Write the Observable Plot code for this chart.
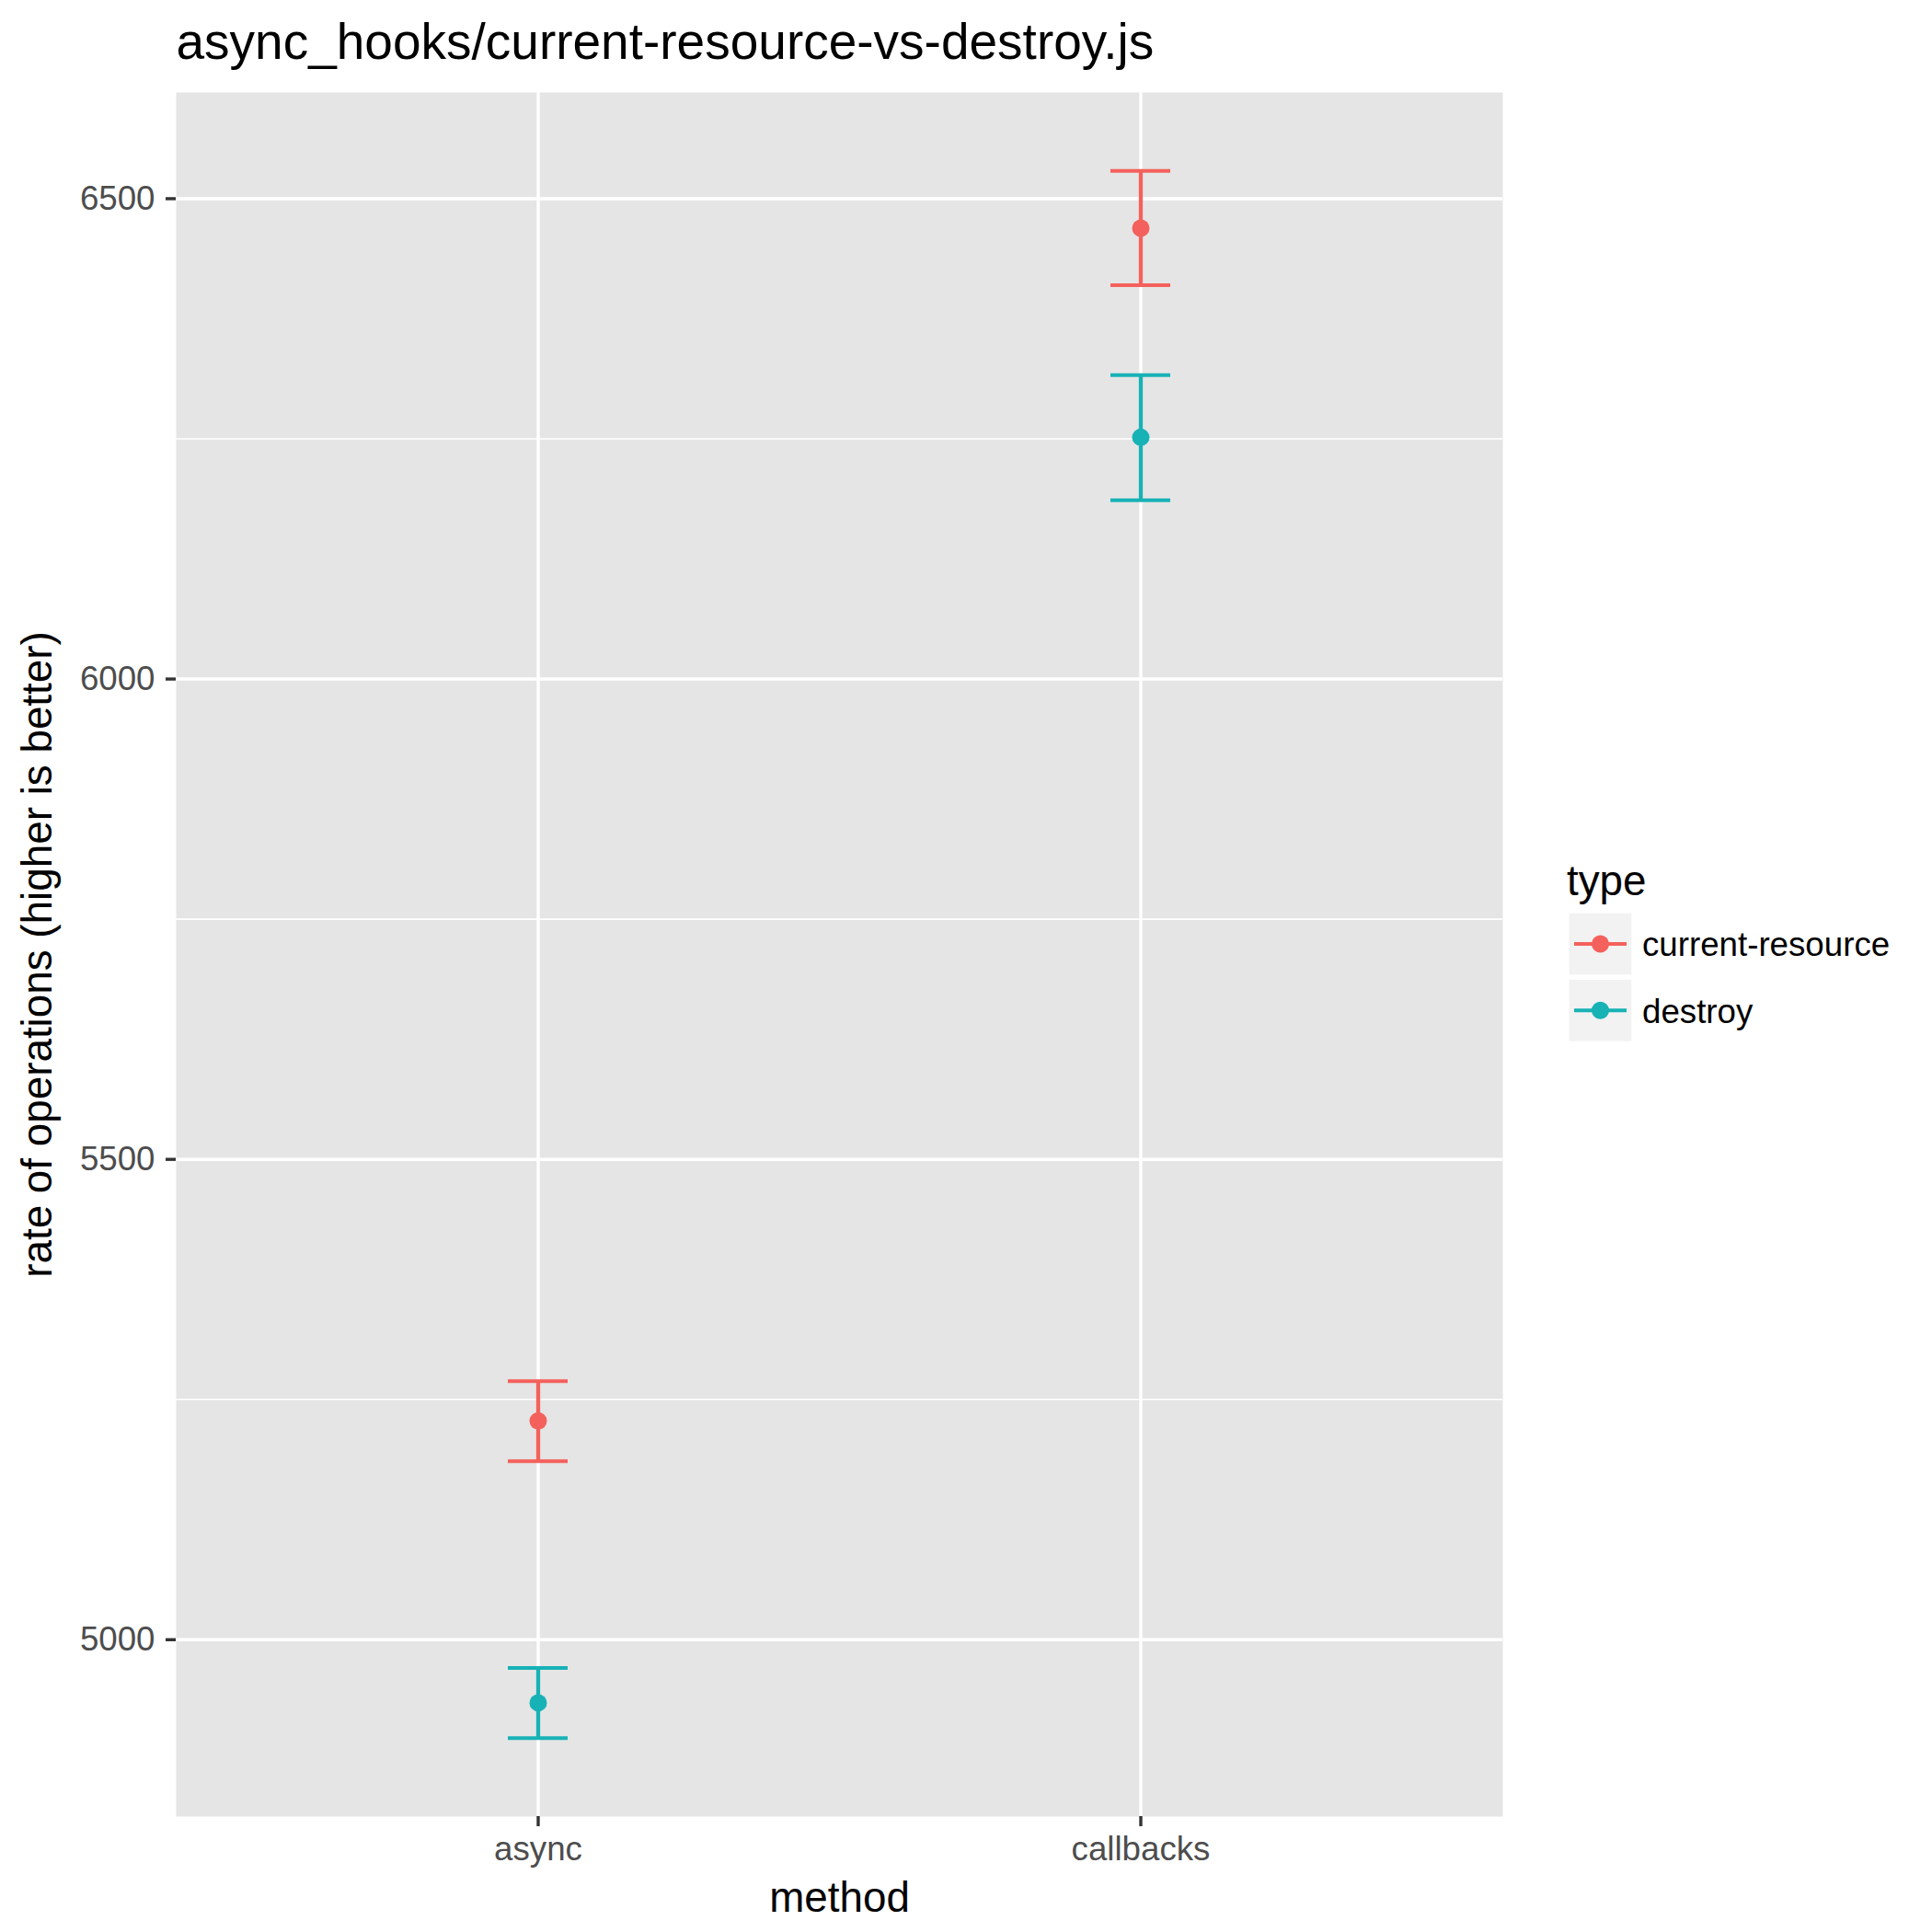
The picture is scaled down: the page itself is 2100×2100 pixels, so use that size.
<!DOCTYPE html>
<html>
<head>
<meta charset="utf-8">
<script src="https://cdn.jsdelivr.net/npm/d3@7"></script>
<script src="https://cdn.jsdelivr.net/npm/@observablehq/plot@0.6"></script>
<style>
  body { margin: 0; background: #ffffff; }
  #wrap { position: relative; width: 2100px; height: 2100px; }
</style>
</head>
<body>
<div id="wrap"></div>
<script>
// Benchmark: async_hooks/current-resource-vs-destroy.js
const methods = ["async", "callbacks"];
const types = ["current-resource", "destroy"];
const typeColors = ["#F4615C", "#17B2B6"];

// rate of operations per method (mean with confidence interval)
const currentResourceMean  = [5227.7, 6469.3];
const currentResourceLower = [5185.8, 6409.9];
const currentResourceUpper = [5269.2, 6529.0];
const destroyMean  = [4934.3, 6251.6];
const destroyLower = [4897.5, 6186.0];
const destroyUpper = [4970.7, 6316.4];

const yMajorTicks = [5000, 5500, 6000, 6500];
const yMinorTicks = [5250, 5750, 6250];

const titleText = "async_hooks/current-resource-vs-destroy.js";
const xTitle = "method";
const yTitle = "rate of operations (higher is better)";
const legendTitle = "type";

const FONT = '"Liberation Sans", Arial, Helvetica, sans-serif';

const rows = [];
methods.forEach((m, i) => {
  rows.push({method: m, type: types[0], mean: currentResourceMean[i], lower: currentResourceLower[i], upper: currentResourceUpper[i]});
  rows.push({method: m, type: types[1], mean: destroyMean[i], lower: destroyLower[i], upper: destroyUpper[i]});
});

// continuous axis expanded by 5% of the data range on each side
const lo = d3.min(rows, d => d.lower);
const hi = d3.max(rows, d => d.upper);
const pad = (hi - lo) * 0.05;

const chart = Plot.plot({
  width: 2100,
  height: 2100,
  marginTop: 100,
  marginBottom: 126,
  marginLeft: 191,
  marginRight: 467,
  style: {fontFamily: FONT, background: "transparent", overflow: "visible"},
  x: {type: "band", domain: methods, paddingInner: 0.9008, paddingOuter: 0.5504, axis: null},
  y: {domain: [lo - pad, hi + pad], axis: null},
  color: {domain: types, range: typeColors},
  marks: [
    Plot.frame({fill: "#E5E5E5", stroke: "none"}),
    Plot.gridY(yMinorTicks, {stroke: "white", strokeOpacity: 1, strokeWidth: 1.7}),
    Plot.gridY(yMajorTicks, {stroke: "white", strokeOpacity: 1, strokeWidth: 3.4}),
    Plot.gridX(methods, {stroke: "white", strokeOpacity: 1, strokeWidth: 3.4}),
    Plot.axisY(yMajorTicks, {tickSize: 11, tickPadding: 12, tickFormat: d3.format("d"), fontSize: 36.7, fill: "#4D4D4D", stroke: "#333333", strokeWidth: 3.4, label: null}),
    Plot.axisX(methods, {tickSize: 11, tickPadding: 10, fontSize: 36.7, fill: "#4D4D4D", stroke: "#333333", strokeWidth: 3.4, label: null}),
    Plot.ruleX(rows, {x: "method", y1: "lower", y2: "upper", stroke: "type", strokeWidth: 4.3}),
    Plot.tickY(rows, {x: "method", y: "lower", stroke: "type", strokeWidth: 4}),
    Plot.tickY(rows, {x: "method", y: "upper", stroke: "type", strokeWidth: 4}),
    Plot.dot(rows, {x: "method", y: "mean", fill: "type", r: 9.5, stroke: "none"}),
    Plot.text([titleText], {text: d => d, frameAnchor: "top-left", textAnchor: "start", lineAnchor: "bottom", dy: -37, fontSize: 55, fill: "black"}),
    Plot.text([xTitle], {text: d => d, frameAnchor: "bottom", textAnchor: "middle", lineAnchor: "bottom", dy: 103, fontSize: 45.8, fill: "black"}),
    Plot.text([yTitle], {text: d => d, frameAnchor: "left", textAnchor: "middle", lineAnchor: "bottom", rotate: -90, dx: -136, fontSize: 45.8, fill: "black"})
  ]
});

// legend for the colour scale, drawn to the right of the panel
const colorScale = chart.scale("color");
const svg = d3.select(chart);
const legend = svg.append("g").attr("font-family", FONT).attr("text-anchor", "start");
legend.append("text")
  .attr("x", 1703).attr("y", 973)
  .attr("font-size", 45.8).attr("fill", "black")
  .text(legendTitle);
const keyW = 67.6, keyH = 66.6, keyGap = 72.3;
types.forEach((t, i) => {
  const y0 = 992.7 + i * keyGap;
  const cy = y0 + keyH / 2;
  const col = colorScale.apply(t);
  legend.append("rect").attr("x", 1705.7).attr("y", y0).attr("width", keyW).attr("height", keyH).attr("fill", "#F2F2F2");
  legend.append("line").attr("x1", 1711).attr("x2", 1768).attr("y1", cy).attr("y2", cy).attr("stroke", col).attr("stroke-width", 4);
  legend.append("circle").attr("cx", 1739.5).attr("cy", cy).attr("r", 9.5).attr("fill", col);
  legend.append("text").attr("x", 1785).attr("y", cy).attr("dy", "0.36em")
    .attr("font-size", 36.7).attr("fill", "black").text(t);
});

document.getElementById("wrap").appendChild(chart);
</script>
</body>
</html>
